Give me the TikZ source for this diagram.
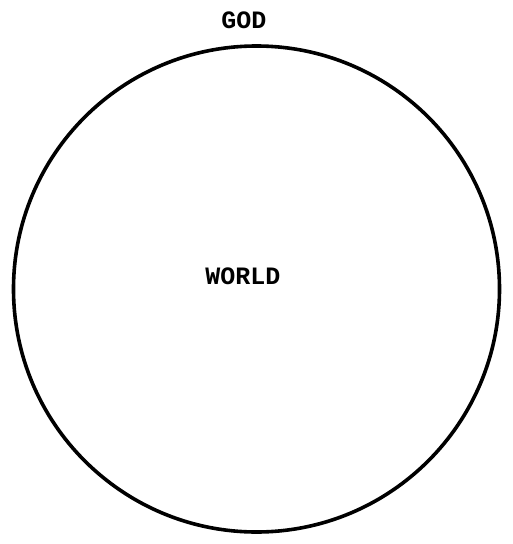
\documentclass[tikz,border=0pt]{standalone}
\usepackage{fontspec}
\setmonofont{Liberation Mono}
\begin{document}
\begin{tikzpicture}[x=1pt, y=-1pt, font=\ttfamily\bfseries\fontsize{25}{25}\selectfont, line join=round, line cap=round]
\useasboundingbox (0,0) rectangle (513,544);
\draw[line width=3.6pt] (256.5,289) circle (243pt);
\node (god) at (244,20) {GOD};
\node (world) at (243,276) {WORLD};
\end{tikzpicture}
\end{document}
